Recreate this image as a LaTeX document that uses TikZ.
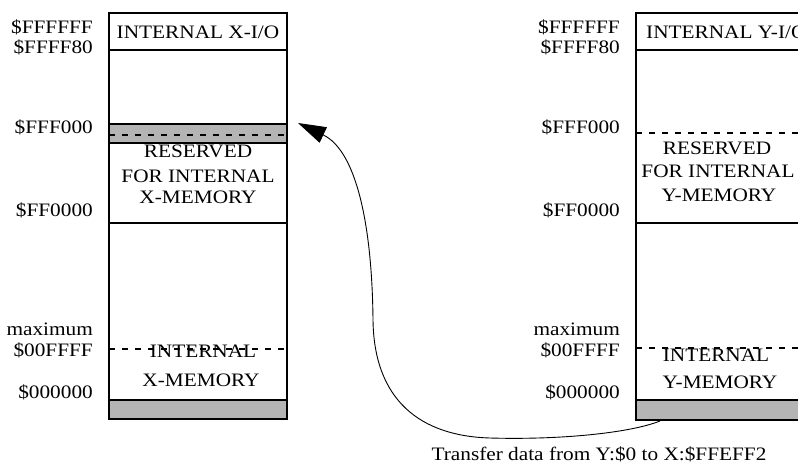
\documentclass[tikz,border=0pt]{standalone}
\usepackage{fontspec}
\setmainfont{Liberation Serif}[FakeStretch=1.12]
\usetikzlibrary{arrows.meta}
\definecolor{bandgray}{RGB}{180,180,180}
\begin{document}
\begin{tikzpicture}[x=1pt,y=-1pt,
  wall/.style={line width=2.8pt},
  seam/.style={line width=1.8pt, dash pattern=on 6pt off 7pt},
  lbl/.style={inner sep=0pt, anchor=base east, font=\fontsize{19}{20}\selectfont},
  txt/.style={inner sep=0pt, anchor=base, font=\fontsize{19}{20}\selectfont},
  flow/.style={line width=0.9pt, -{Triangle[length=28pt,width=17pt]}},
]
\useasboundingbox (0,0) rectangle (798,463);
\clip (0,0) rectangle (798,463);

% ---- X memory map ----
\draw[wall] (109,13) rectangle (287,400);
\draw[wall] (109,50) -- (287,50);
\draw[wall, fill=bandgray] (109,124) rectangle (287,143);
\draw[seam] (109,135) -- (287,135);
\draw[wall] (109,223) -- (287,223);
\draw[seam] (109,349) -- (287,349);
\draw[wall, fill=bandgray] (109,400) rectangle (287,419);

\node[lbl] (xa1) at (93,33) {\$FFFFFF};
\node[lbl] (xa2) at (93,53) {\$FFFF80};
\node[lbl] (xa3) at (93,133) {\$FFF000};
\node[lbl] (xa4) at (93,216) {\$FF0000};
\node[lbl] (xa5) at (93,335) {maximum};
\node[lbl] (xa6) at (93,356) {\$00FFFF};
\node[lbl] (xa7) at (93,398) {\$000000};

\node[txt] (xio) at (198,38) {INTERNAL X-I/O};
\node[txt] (xr1) at (198,157) {RESERVED};
\node[txt] (xr2) at (198,182) {FOR INTERNAL};
\node[txt] (xr3) at (198,203) {X-MEMORY};
\node[txt] (xm1) at (203,357) {INTERNAL};
\node[txt] (xm2) at (201,386) {X-MEMORY};

% ---- Y memory map ----
\draw[wall] (636,13) rectangle (816,400);
\draw[wall] (636,50) -- (816,50);
\draw[seam] (636,133) -- (816,133);
\draw[wall] (636,223) -- (816,223);
\draw[seam] (636,348) -- (816,348);
\draw[wall, fill=bandgray] (636,400) rectangle (816,420);

\node[lbl] (ya1) at (620,33) {\$FFFFFF};
\node[lbl] (ya2) at (620,53) {\$FFFF80};
\node[lbl] (ya3) at (620,133) {\$FFF000};
\node[lbl] (ya4) at (620,216) {\$FF0000};
\node[lbl] (ya5) at (620,335) {maximum};
\node[lbl] (ya6) at (620,356) {\$00FFFF};
\node[lbl] (ya7) at (620,398) {\$000000};

\node[txt, anchor=base west] (yio) at (646,38) {INTERNAL Y-I/O};
\node[txt] (yr1) at (717,154) {RESERVED};
\node[txt] (yr2) at (718,177) {FOR INTERNAL};
\node[txt] (yr3) at (719,201) {Y-MEMORY};
\node[txt] (ym1) at (716,361) {INTERNAL};
\node[txt] (ym2) at (720,388) {Y-MEMORY};

% ---- transfer arrow ----
\coordinate (ysrc) at (660,421);
\coordinate (xdst) at (298,123);
\draw[flow] (ysrc) .. controls (630,433) and (560,440) .. (490,438)
  .. controls (420,436) and (374,400) .. (373,320)
  .. controls (372,220) and (355,150) .. (xdst);

\node[txt] (cap) at (599,460) {Transfer data from Y:\$0 to X:\$FFEFF2};
\end{tikzpicture}
\end{document}
